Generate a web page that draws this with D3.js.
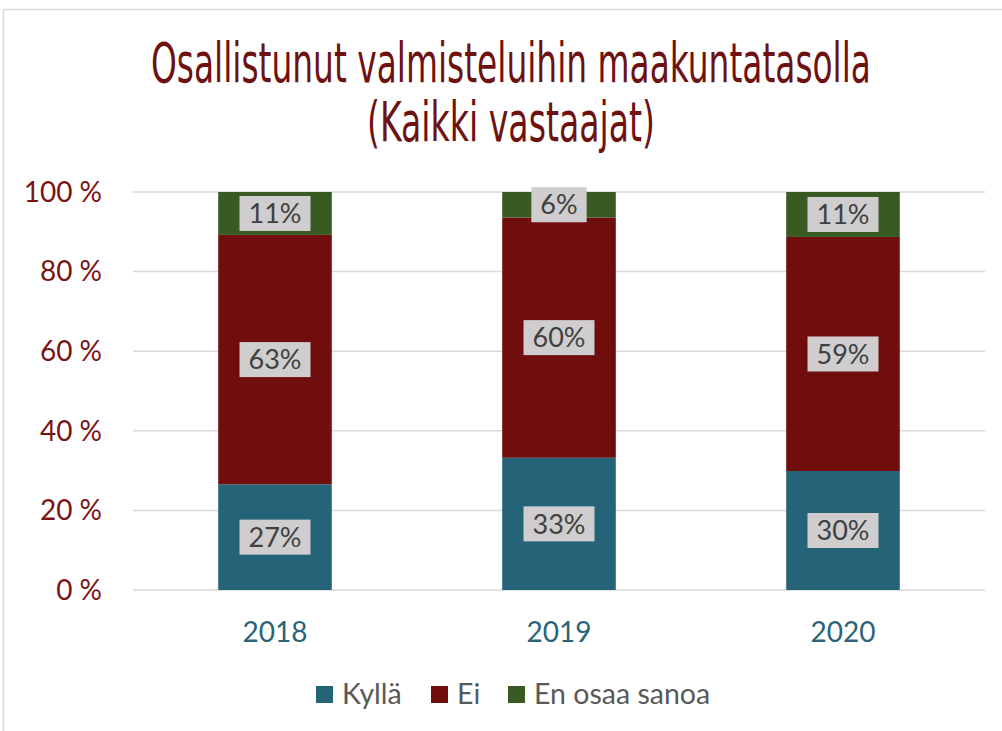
<!DOCTYPE html>
<meta charset="utf-8">
<style>
body { margin: 0; background: #fff; }
svg { display: block; font-family: Lato, "Open Sans", sans-serif; }
.grid line { stroke: #d9d9d9; stroke-width: 1.5; }
.title { fill: #6e1111; font-family: "Liberation Sans Narrow", "DejaVu Sans Condensed", sans-serif; }
.ytick { fill: #7a1414; font-size: 28px; }
.xtick { fill: #2a6478; font-size: 28px; }
.lbl-box { fill: #cfcdcd; }
.lbl { fill: #404040; font-size: 27px; }
.legend text { fill: #595959; font-size: 28.5px; }
</style>
<body>
<svg width="1002" height="731"></svg>
<script src="https://d3js.org/d3.v7.min.js"></script>
<script>

// data
const years = ["2018", "2019", "2020"];
const series = ["Kyllä", "Ei", "En osaa sanoa"];
const kylla = [26.6, 33.2, 29.9];
const ei = [62.7, 60.3, 58.8];
const eos = [10.8, 6.4, 11.3];
const yTicks = [0, 20, 40, 60, 80, 100];
const colors = ["#256378", "#700e0e", "#3a5a24"];

const titleLines = ["Osallistunut valmisteluihin maakuntatasolla", "(Kaikki vastaajat)"];

let plot = {left: 133, right: 985, top: 192, bottom: 590};

let rows = years.map(function(y, i) {
  let tot = kylla[i] + ei[i] + eos[i];
  return {year: y, "Kyllä": kylla[i] / tot * 100, "Ei": ei[i] / tot * 100, "En osaa sanoa": eos[i] / tot * 100,
          raw: [kylla[i], ei[i], eos[i]]};
});

let svg = d3.select("svg");

// chart frame
svg.append("path")
  .attr("d", "M3.5,740 V9.5 H1010")
  .attr("fill", "none")
  .attr("stroke", "#d9d9d9")
  .attr("stroke-width", 1.5);

// title
let title = svg.append("g");
title.append("text").attr("class", "title")
  .attr("x", 511).attr("y", 82)
  .attr("text-anchor", "middle")
  .attr("font-size", 55)
  .attr("textLength", 720).attr("lengthAdjust", "spacingAndGlyphs")
  .text(titleLines[0]);
title.append("text").attr("class", "title")
  .attr("x", 511).attr("y", 141)
  .attr("text-anchor", "middle")
  .attr("font-size", 55)
  .attr("textLength", 288).attr("lengthAdjust", "spacingAndGlyphs")
  .text(titleLines[1]);

let x = d3.scaleBand()
  .domain(years)
  .range([plot.left, plot.right])
  .paddingInner(0.6)
  .paddingOuter(0.3);

let y = d3.scaleLinear()
  .domain([0, 100])
  .range([plot.bottom, plot.top]);

// gridlines
svg.append("g").attr("class", "grid")
  .selectAll("line")
  .data(yTicks)
  .enter().append("line")
  .attr("x1", plot.left).attr("x2", plot.right)
  .attr("y1", d => y(d)).attr("y2", d => y(d));

// y labels
svg.append("g")
  .selectAll("text")
  .data(yTicks)
  .enter().append("text")
  .attr("class", "ytick")
  .attr("x", 102)
  .attr("y", d => y(d))
  .attr("dy", "0.35em")
  .attr("text-anchor", "end")
  .text(d => d + " %");

// bars
let stack = d3.stack().keys(series);
let layers = stack(rows);

let groups = svg.append("g")
  .selectAll("g")
  .data(layers)
  .enter().append("g")
  .attr("fill", (d, i) => colors[i]);

groups.selectAll("rect")
  .data(d => d)
  .enter().append("rect")
  .attr("x", d => x(d.data.year))
  .attr("width", x.bandwidth())
  .attr("y", d => y(d[1]))
  .attr("height", d => y(d[0]) - y(d[1]));

// data labels
let fmt = d3.format(".0f");
layers.forEach(function(layer, si) {
  layer.forEach(function(d) {
    let cx = x(d.data.year) + x.bandwidth() / 2;
    let cy = (y(d[0]) + y(d[1])) / 2;
    let txt = fmt(d.data.raw[si]) + "%";
    let g = svg.append("g");
    let t = g.append("text")
      .attr("class", "lbl")
      .attr("x", cx).attr("y", cy)
      .attr("dy", "0.36em")
      .attr("text-anchor", "middle")
      .text(txt);
    let w = t.node().getComputedTextLength();
    g.insert("rect", "text")
      .attr("class", "lbl-box")
      .attr("x", cx - w / 2 - 9)
      .attr("y", cy - 17.5)
      .attr("width", w + 18)
      .attr("height", 35);
  });
});

// x labels
svg.append("g")
  .selectAll("text")
  .data(years)
  .enter().append("text")
  .attr("class", "xtick")
  .attr("x", d => x(d) + x.bandwidth() / 2)
  .attr("y", 632)
  .attr("dy", "0.35em")
  .attr("text-anchor", "middle")
  .text(d => d);

// legend
let legendX = [316, 431, 508];
let legend = svg.append("g").attr("class", "legend");
series.forEach(function(s, i) {
  legend.append("rect")
    .attr("x", legendX[i]).attr("y", 686)
    .attr("width", 17).attr("height", 17)
    .attr("fill", colors[i]);
  legend.append("text")
    .attr("x", legendX[i] + 26).attr("y", 694.5)
    .attr("dy", "0.35em")
    .text(s);
});
</script>
</body>
